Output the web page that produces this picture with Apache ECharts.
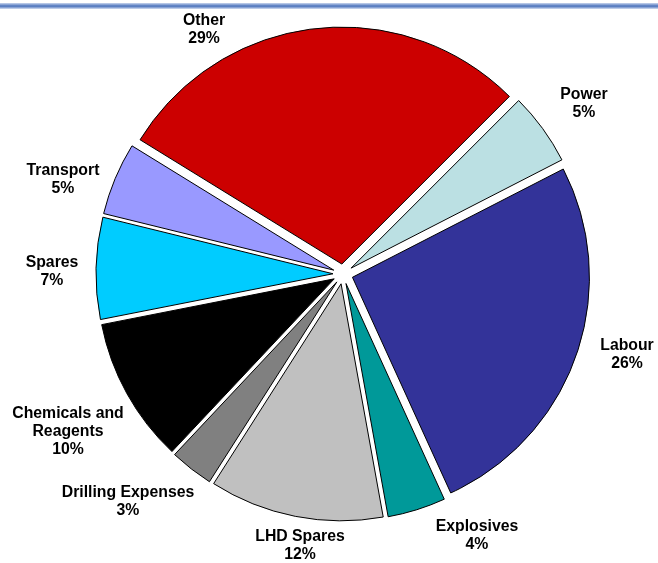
<!DOCTYPE html>
<html>
<head>
<meta charset="utf-8">
<script src="https://cdn.jsdelivr.net/npm/echarts@6/dist/echarts.min.js"></script>
<style>
  html, body { margin: 0; padding: 0; background: #ffffff; }
  #chart { width: 658px; height: 563px; }
</style>
</head>
<body>
<div id="chart"></div>
<script>
// ---- data ----
const categories = ['Power', 'Labour', 'Explosives', 'LHD Spares', 'Drilling Expenses',
                    'Chemicals and Reagents', 'Spares', 'Transport', 'Other'];
const shares = [5, 26, 4, 12, 3, 10, 7, 5, 29];

// ---- styles / layout ----
const sliceColors = ['#BBE0E3', '#333399', '#009999', '#C0C0C0', '#808080',
                     '#000000', '#00CCFF', '#9999FF', '#CC0000'];
// label block centres (px), in category order
const labelPos = [[584, 104], [627, 355], [477, 536], [300, 546], [128, 502],
                  [68, 432], [52, 272], [63, 180], [204, 30]];

const chart = echarts.init(document.getElementById('chart'), null, { renderer: 'canvas' });

const data = categories.map((name, i) => ({
  name: name,
  value: shares[i],
  selected: true,
  itemStyle: { color: sliceColors[i] }
}));

const labelText = (name, value) =>
  name.replace('Chemicals and ', 'Chemicals and\n') + '\n' + value + '%';

const labelGraphics = categories.map((name, i) => ({
  type: 'text',
  x: labelPos[i][0],
  y: labelPos[i][1],
  silent: true,
  z: 10,
  style: {
    text: labelText(name, shares[i]),
    fill: '#000000',
    fontFamily: 'Liberation Sans, Arial, sans-serif',
    fontWeight: 'bold',
    fontSize: 15.8,
    lineHeight: 18,
    align: 'center',
    verticalAlign: 'middle'
  }
}));

chart.setOption({
  animation: false,
  backgroundColor: '#ffffff',
  graphic: [{
    type: 'rect',
    left: 0, top: 3,
    shape: { width: 658, height: 6 },
    style: {
      fill: new echarts.graphic.LinearGradient(0, 0, 0, 1, [
        { offset: 0, color: '#c9d6ee' },
        { offset: 0.45, color: '#5b7fc2' },
        { offset: 0.6, color: '#5b7fc2' },
        { offset: 1, color: '#d6e0f2' }
      ])
    },
    silent: true
  }].concat(labelGraphics),
  series: [{
    type: 'pie',
    center: [343, 274],
    radius: 237,
    startAngle: 45,
    clockwise: true,
    selectedMode: 'multiple',
    selectedOffset: 10,
    avoidLabelOverlap: false,
    data: data,
    itemStyle: { borderColor: '#000000', borderWidth: 1 },
    emphasis: { disabled: true },
    select: { itemStyle: { borderColor: '#000000', borderWidth: 1 } },
    label: { show: false },
    labelLine: { show: false }
  }]
});
</script>
</body>
</html>
